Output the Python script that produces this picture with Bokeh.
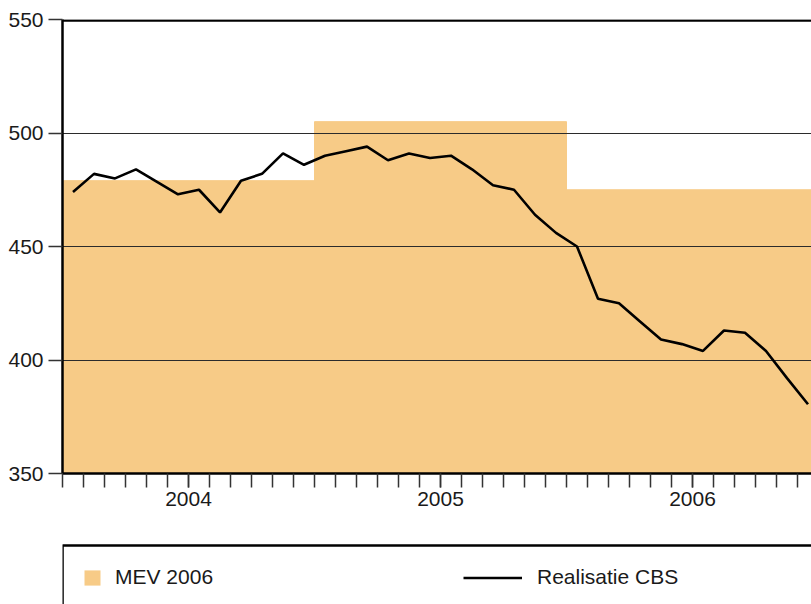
import numpy as np
from bokeh.plotting import figure
from bokeh.models import (Range1d, FixedTicker, Span, BoxAnnotation, Legend,
                          LegendItem, ColumnDataSource)
from bokeh.core.properties import value
from bokeh.layouts import column
from bokeh.embed import file_html
from bokeh.resources import INLINE

# ---- data ----
years = ["2004", "2005", "2006"]
mev_2006 = [479, 505, 475]
realisatie_cbs = [474, 482, 480, 484, 478.5, 473, 475, 465, 479, 482, 491, 486,
                  490, 492, 494, 488, 491, 489, 490, 484, 477, 475, 464, 456,
                  450, 427, 425, 417, 409, 407, 404, 413, 412, 404, 392, 380.5]
y_ticks = [350, 400, 450, 500, 550]

FONT = "Liberation Sans"
TXT = "#1a1a1a"
ORANGE = "#F7CB87"

n_months = len(realisatie_cbs)
month_x = np.arange(n_months) + 0.5
year_left = [12 * i for i in range(len(years))]
year_right = [12 * (i + 1) for i in range(len(years))]
year_mid = [12 * i + 6 for i in range(len(years))]

W = 811
LEFT = 62
FRAME_H = 454
Y0, Y1 = 350, 550

# ---- main chart ----
p1 = figure(width=W, height=525,
            x_range=Range1d(0, (W - LEFT) / 21), y_range=Range1d(Y0, Y1),
            output_backend="svg", toolbar_location=None,
            min_border_left=LEFT, min_border_right=0,
            min_border_top=19, min_border_bottom=52)
p1.outline_line_color = None
p1.xgrid.visible = False
p1.ygrid.ticker = FixedTicker(ticks=y_ticks)
p1.ygrid.grid_line_color = "#2b2b2b"
p1.ygrid.grid_line_width = 1.2

bars = p1.quad(left=year_left, right=year_right, bottom=Y0, top=mev_2006,
               fill_color=ORANGE, line_color=ORANGE, line_width=1)
bars.level = "image"
p1.line(month_x, realisatie_cbs, line_color="black", line_width=2.6)

# top border of the plot area (shifted ~1px inward so it is not clipped)
px = (Y1 - Y0) / FRAME_H
p1.add_layout(Span(location=Y1 - 1.1 * px, dimension="width",
                   line_color="black", line_width=2.5))

xa = p1.xaxis[0]
xa.ticker = FixedTicker(ticks=year_mid, minor_ticks=list(range(0, 37)))
xa.major_label_overrides = {m: y for m, y in zip(year_mid, years)}
xa.major_tick_in = 0
xa.major_tick_out = 14
xa.minor_tick_in = 0
xa.minor_tick_out = 14
xa.major_tick_line_color = "#333333"
xa.minor_tick_line_color = "#333333"
xa.major_tick_line_width = 1.5
xa.minor_tick_line_width = 1.5
xa.axis_line_color = "black"
xa.axis_line_width = 2.5
xa.major_label_text_font = FONT
xa.major_label_text_font_size = "21px"
xa.major_label_text_color = TXT
xa.major_label_standoff = 4

ya = p1.yaxis[0]
ya.ticker = FixedTicker(ticks=y_ticks)
ya.major_tick_in = 0
ya.major_tick_out = 14
ya.minor_tick_line_color = None
ya.major_tick_line_color = "#333333"
ya.major_tick_line_width = 1.5
ya.axis_line_color = "black"
ya.axis_line_width = 2.5
ya.major_label_text_font = FONT
ya.major_label_text_font_size = "21px"
ya.major_label_text_color = TXT
ya.major_label_standoff = 5

# ---- legend panel ----
H2 = 79
p2 = figure(width=W, height=H2, x_range=Range1d(0, W - LEFT), y_range=Range1d(0, H2),
            x_axis_type=None, y_axis_type=None,
            output_backend="svg", toolbar_location=None,
            min_border_left=LEFT, min_border_right=0,
            min_border_top=0, min_border_bottom=0)
p2.outline_line_color = None
p2.add_layout(BoxAnnotation(left=0, right=2000, top=H2 - 20, bottom=-100,
                            fill_color=None, line_color="black", line_alpha=1,
                            line_width=2.6))

# legend-only renderers (kept outside the visible range)
dummy = ColumnDataSource(dict(l=[-20], r=[-10], t=[-10], b=[-20], x=[-20], y=[-20]))
r_mev = p2.quad(left="l", right="r", top="t", bottom="b", source=dummy,
                fill_color=ORANGE, line_color=None)
r_line = p2.line(x="x", y="y", source=dummy, line_color="black", line_width=2.6)

common = dict(orientation="horizontal", padding=0, margin=0, spacing=0,
              border_line_color=None, background_fill_color=None,
              label_text_font=FONT, label_text_font_size="21px",
              label_text_color=TXT, label_height=19)
leg1 = Legend(items=[LegendItem(label=value("MEV 2006"), renderers=[r_mev])],
              location=(20, 15), glyph_width=20, glyph_height=19,
              label_standoff=13, **common)
leg2 = Legend(items=[LegendItem(label=value("Realisatie CBS"), renderers=[r_line])],
              location=(401, 15), glyph_width=59, glyph_height=19,
              label_standoff=15, **common)
p2.add_layout(leg1)
p2.add_layout(leg2)

layout = column(p1, p2)
open("out.html", "w").write(file_html(layout, INLINE))
